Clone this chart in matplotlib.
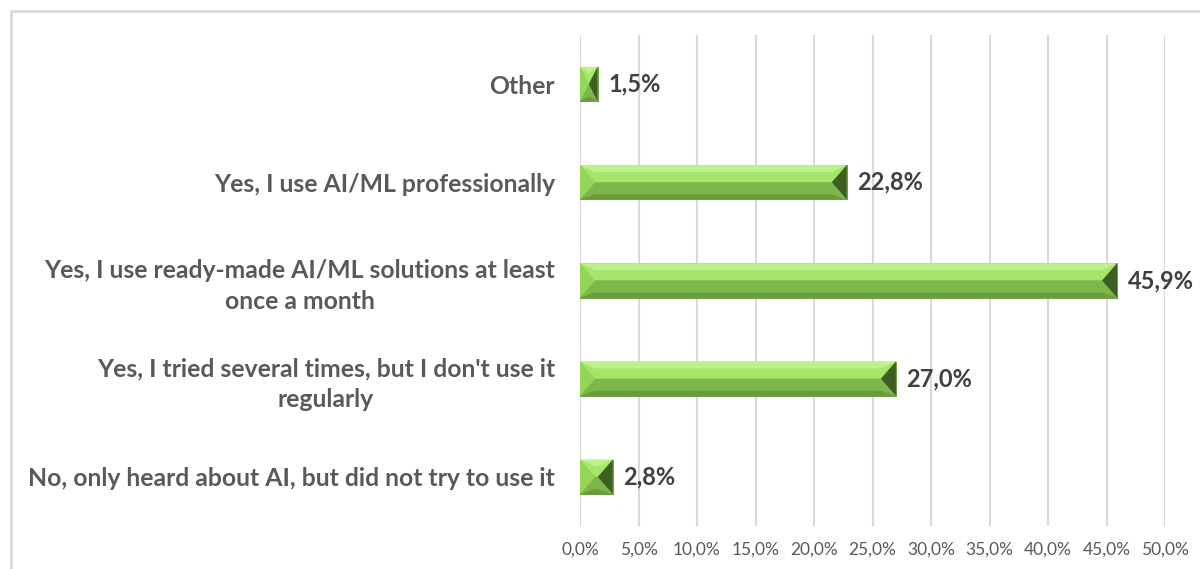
import matplotlib.pyplot as plt
from matplotlib.patches import Rectangle

plt.rcParams.update({'font.family': ['Lato', 'DejaVu Sans']})

categories = ["Other",
              "Yes, I use AI/ML professionally",
              "Yes, I use ready-made AI/ML solutions at least\nonce a month",
              "Yes, I tried several times, but I don't use it\nregularly",
              "No, only heard about AI, but did not try to use it"]
values = [1.5, 22.8, 45.9, 27.0, 2.8]
xticks = [0, 5, 10, 15, 20, 25, 30, 35, 40, 45, 50]

fig = plt.figure(figsize=(12, 5.69), dpi=100)
# light outer frame like the spreadsheet chart area
fig.patches.append(Rectangle((11/1200, -0.1), 1.2, 1 - 11/569 + 0.1, transform=fig.transFigure,
                             fill=False, edgecolor='#d9d9d9', linewidth=2))

ax = fig.add_axes([580/1200, 1 - 526/569, 585/1200, 491/569])

ypos = list(range(len(categories)))
h = 0.35
ax.barh(ypos, values, height=h, color='#8fcf52', edgecolor='#5f8f35', linewidth=0.6, zorder=3)

# bevel faces
for y, v in zip(ypos, values):
    dx = min(1.28, v / 2)
    top, bot, mid = y - h/2, y + h/2, y
    ax.fill([0, v, v - dx, dx], [top, top, mid, mid], color='#a5e56a', zorder=4, lw=0)
    ax.fill([0, v, v - dx, dx], [top, top, top + h*0.2, top + h*0.2], color='#bbf289', zorder=4, lw=0)
    ax.fill([dx, v - dx, v, 0], [mid, mid, bot, bot], color='#7db64a', zorder=4, lw=0)
    ax.fill([dx, v - dx, v, 0], [bot - h*0.15, bot - h*0.15, bot, bot], color='#6a9c3c', zorder=4, lw=0)
    ax.fill([0, dx, 0], [top, mid, bot], color='#94d558', zorder=5, lw=0)
    ax.fill([v, v - dx, v], [top, mid, bot], color='#3e5e22', zorder=5, lw=0)
    ax.text(v + 0.9, y, f"{v:.1f}%".replace('.', ','), ha='left', va='center',
            fontsize=17, fontweight='bold', color='#404040', zorder=6)

ax.set_ylim(len(categories) - 0.5, -0.5)
ax.set_xlim(0, 50)
ax.set_xticks(xticks)
ax.set_xticklabels([f"{t:.1f}%".replace('.', ',') for t in xticks], fontsize=12.5, color='#595959')
ax.set_yticks(ypos)
ax.set_yticklabels(categories, fontsize=17.8, fontweight='bold', color='#595959',
                   multialignment='center', linespacing=1.4)
ax.tick_params(axis='both', length=0)
ax.tick_params(axis='y', pad=18)
ax.tick_params(axis='x', pad=11)
ax.grid(axis='x', color='#d9d9d9', linewidth=1.5, zorder=0)
for s in ax.spines.values():
    s.set_visible(False)

plt.savefig("out.png", dpi=100)
